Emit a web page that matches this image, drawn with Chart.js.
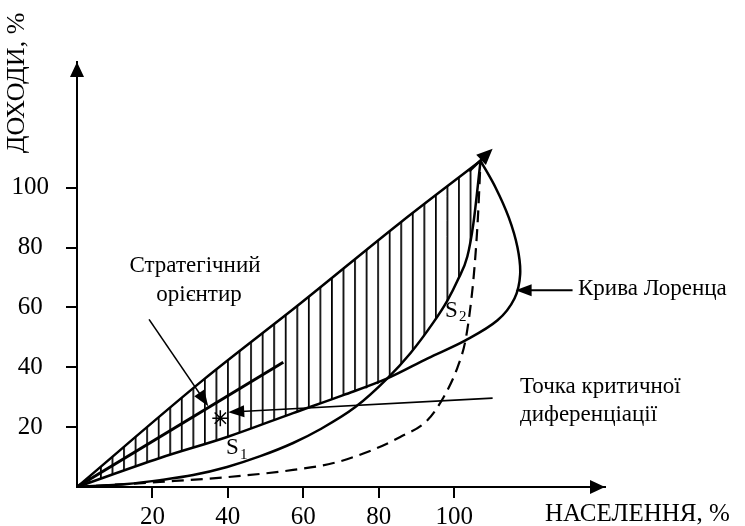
<!DOCTYPE html>
<html>
<head>
<meta charset="utf-8">
<script src="https://cdn.jsdelivr.net/npm/chart.js@4.4.1/dist/chart.umd.min.js"></script>
<style>
  body { margin: 0; background: #fff; }
  #wrap { width: 745px; height: 526px; position: relative; }
</style>
</head>
<body>
<div id="wrap"><canvas id="myChart"></canvas></div>
<script>
// tick labels
var xTicks = [20, 40, 60, 80, 100];
var yTicks = [20, 40, 60, 80, 100];

// лінія рівномірного розподілу (діагональ)
var eqX = [0, 33.4, 59.2, 85.7, 107];
var eqY = [0, 35.7, 61.3, 88.3, 109];

// крива Лоренца (петля праворуч)
var lorX = [0, 22, 39.8, 57.3, 70.6, 82.3, 93, 103, 111.5, 116, 117.5, 116.8, 114.5, 111, 107];
var lorY = [0, 9.7, 16.7, 24.7, 30.7, 36.3, 43, 49, 55.7, 63, 71, 80, 90, 100, 109];

// крива S2 (суцільна)
var s2X = [0, 13.3, 22.0, 30.8, 39.8, 48.6, 57.3, 64.5, 73.8, 82.3, 88.4, 94.5, 98.2, 100.9, 103.5, 105.1, 107];
var s2Y = [0, 1, 2.3, 4, 6.7, 10.3, 14.7, 19.3, 26.7, 36.3, 44.7, 55, 62.3, 69, 77, 88, 109];

// пунктирна крива
var dashX = [0, 22, 39.8, 57.3, 68, 77, 85.7, 92.9, 97.2, 100.9, 103, 104.5, 105.5, 106.3, 107];
var dashY = [0, 1.7, 3.3, 5.7, 8, 11.7, 16.7, 22.3, 30, 40, 49, 62, 75, 90, 109];

// нижня межа заштрихованої області (Лоренц до перетину, далі S2)
var hatchX = [0, 22, 39.8, 57.3, 70.6, 82.3, 88.4, 94.5, 98.2, 100.9, 103.5, 105.1, 107];
var hatchY = [0, 9.7, 16.7, 24.7, 30.7, 36.3, 44.7, 55, 62.3, 69, 77, 88, 109];

// стратегічний орієнтир
var stratX = [0, 54.7];
var stratY = [0, 41.7];

// точка критичної диференціації
var critX = [38];
var critY = [23];

function pts(xs, ys) {
    return xs.map(function(x, i) { return {x: x, y: ys[i]}; });
}

// штриховка вертикальними лініями
var pc = document.createElement('canvas');
pc.width = 12; pc.height = 12;
var pctx = pc.getContext('2d');
pctx.fillStyle = '#000';
pctx.fillRect(0, 0, 1.8, 12);
var hatch = pctx.createPattern(pc, 'repeat');
hatch.setTransform(new DOMMatrix([11.55 / 12, 0, 0, 1, 100, 0]));

var font = "'Liberation Serif', 'Times New Roman', serif";

function arrow(ctx, x1, y1, x2, y2, len, half, lw) {
    var a = Math.atan2(y2 - y1, x2 - x1);
    ctx.save();
    ctx.strokeStyle = '#000';
    ctx.fillStyle = '#000';
    ctx.lineWidth = lw;
    ctx.beginPath();
    ctx.moveTo(x1, y1);
    ctx.lineTo(x2 - Math.cos(a) * len * 0.8, y2 - Math.sin(a) * len * 0.8);
    ctx.stroke();
    ctx.beginPath();
    ctx.moveTo(x2, y2);
    ctx.lineTo(x2 - Math.cos(a) * len - Math.sin(a) * half, y2 - Math.sin(a) * len + Math.cos(a) * half);
    ctx.lineTo(x2 - Math.cos(a) * len + Math.sin(a) * half, y2 - Math.sin(a) * len - Math.cos(a) * half);
    ctx.closePath();
    ctx.fill();
    ctx.restore();
}

var decor = {
    id: 'decor',
    afterDraw: function(chart) {
        var ctx = chart.ctx;
        var xs = chart.scales.x, ys = chart.scales.y;
        var ca = chart.chartArea;
        function px(v) { return xs.getPixelForValue(v); }
        function py(v) { return ys.getPixelForValue(v); }

        // axis arrows
        arrow(ctx, ca.left, ca.bottom, ca.right, ca.bottom, 15, 7, 2);
        arrow(ctx, ca.left, ca.bottom, ca.left, ca.top, 15, 7, 2);

        // arrow on the diagonal
        arrow(ctx, px(104), py(105.5), px(110.2), py(113), 16, 7, 2.5);

        // annotation arrows
        arrow(ctx, px(19.1), py(56), px(34.8), py(27), 16, 6, 1.6);
        arrow(ctx, px(110.2), py(29.7), px(40.1), py(25), 16, 6, 1.6);
        arrow(ctx, px(131.4), py(65.7), px(116.3), py(65.7), 16, 6, 2);

        ctx.save();
        ctx.fillStyle = '#000';
        ctx.textBaseline = 'middle';

        // y title
        ctx.save();
        ctx.translate(17, 83);
        ctx.rotate(-Math.PI / 2);
        ctx.textAlign = 'center';
        ctx.font = '26px ' + font;
        ctx.fillText('ДОХОДИ, %', 0, 0);
        ctx.restore();

        // x title
        ctx.font = '25px ' + font;
        ctx.textAlign = 'left';
        ctx.fillText('НАСЕЛЕННЯ, %', 545, 514);

        // annotations
        ctx.font = '23px ' + font;
        ctx.textAlign = 'center';
        ctx.fillText('Стратегічний', 195, 266);
        ctx.fillText('орієнтир', 199, 295);
        ctx.textAlign = 'left';
        ctx.fillText('Крива Лоренца', 578, 289);
        ctx.fillText('Точка критичної', 520, 387);
        ctx.fillText('диференціації', 520, 415);

        // S1, S2
        ctx.font = '23px ' + font;
        ctx.fillText('S', 226, 448);
        ctx.fillText('S', 445, 311);
        ctx.font = '15px ' + font;
        ctx.fillText('1', 240, 455);
        ctx.fillText('2', 459, 317);
        ctx.restore();
    }
};

new Chart('myChart', {
    type: 'scatter',
    data: {
        datasets: [
            {
                data: pts(eqX, eqY), showLine: true, borderColor: '#000', borderWidth: 2.5,
                cubicInterpolationMode: 'monotone', pointRadius: 0,
                fill: {target: 1}, backgroundColor: hatch
            },
            {
                data: pts(hatchX, hatchY), showLine: true, borderColor: 'rgba(0,0,0,0)', borderWidth: 0,
                cubicInterpolationMode: 'monotone', pointRadius: 0
            },
            {
                data: pts(stratX, stratY), showLine: true, borderColor: '#000', borderWidth: 3,
                pointRadius: 0
            },
            {
                data: pts(lorX, lorY), showLine: true, borderColor: '#000', borderWidth: 2.5,
                tension: 0.35, pointRadius: 0
            },
            {
                data: pts(s2X, s2Y), showLine: true, borderColor: '#000', borderWidth: 2.5,
                cubicInterpolationMode: 'monotone', pointRadius: 0
            },
            {
                data: pts(dashX, dashY), showLine: true, borderColor: '#000', borderWidth: 2.2,
                borderDash: [12, 7], cubicInterpolationMode: 'monotone', pointRadius: 0
            },
            {
                data: pts(critX, critY), showLine: false, pointStyle: 'star', pointRadius: 8,
                borderColor: '#000', borderWidth: 1.5, backgroundColor: '#000'
            }
        ]
    },
    options: {
        responsive: true,
        maintainAspectRatio: false,
        animation: false,
        layout: {padding: {top: 62, right: 140, left: 0, bottom: 0}},
        plugins: {legend: {display: false}, tooltip: {enabled: false}},
        scales: {
            x: {
                type: 'linear', min: 0, max: 140,
                afterFit: function(s) { s.height = 39; },
                afterBuildTicks: function(s) { s.ticks = xTicks.map(function(v) { return {value: v}; }); },
                border: {color: '#000', width: 2},
                grid: {drawOnChartArea: false, drawTicks: true, tickLength: 11, color: '#000', lineWidth: 2},
                ticks: {color: '#000', font: {family: font, size: 25}, padding: 4, maxRotation: 0}
            },
            y: {
                type: 'linear', min: 0, max: 142,
                afterFit: function(s) { s.width = 77; },
                afterBuildTicks: function(s) { s.ticks = yTicks.map(function(v) { return {value: v}; }); },
                border: {color: '#000', width: 2},
                grid: {drawOnChartArea: false, drawTicks: true, tickLength: 11, color: '#000', lineWidth: 2},
                ticks: {color: '#000', font: {family: font, size: 25}, padding: 17, crossAlign: 'center'}
            }
        }
    },
    plugins: [decor]
});
</script>
</body>
</html>
